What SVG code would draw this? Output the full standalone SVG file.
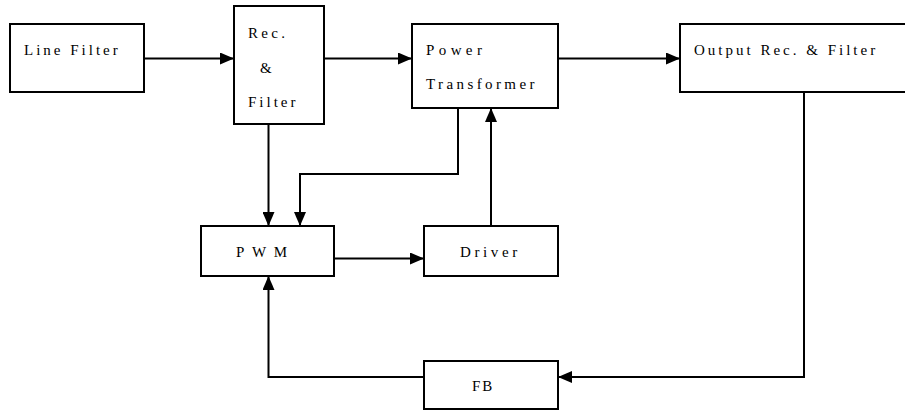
<svg xmlns="http://www.w3.org/2000/svg" width="905" height="410" viewBox="0 0 905 410">
<style>
.box{fill:#fff;stroke:#000;stroke-width:2}
text{font-family:'Liberation Serif','DejaVu Serif',serif;font-size:15px;fill:#000}
.c{fill:none;stroke:#000;stroke-width:2;marker-end:url(#ah)}
</style>
<defs>
<marker id="ah" viewBox="0 0 14 12" refX="14" refY="6" markerWidth="14" markerHeight="12" markerUnits="userSpaceOnUse" orient="auto">
<path d="M0,0 L14,6 L0,12 Z" fill="#000"/>
</marker>
</defs>
<rect width="905" height="410" fill="#fff"/>
<g id="connectors">
<path class="c" d="M144,58.5 H234"/>
<path class="c" d="M324,58.5 H412"/>
<path class="c" d="M558,58.5 H680"/>
<path class="c" d="M268.5,124 V226"/>
<path class="c" d="M458,108 V174 H300 V226"/>
<path class="c" d="M491,226 V108"/>
<path class="c" d="M334,258.5 H424"/>
<path class="c" d="M804,92 V377 H558"/>
<path class="c" d="M424,377 H268.5 V276"/>
</g>
<g font-family="Liberation Serif, serif">
<g id="line-filter">
<rect class="box" x="10" y="24" width="134" height="68"/>
<text x="24" y="55" letter-spacing="3">Line Filter</text>
</g>
<g id="rec-filter">
<rect class="box" x="234" y="6" width="90" height="118"/>
<text x="248" y="38" letter-spacing="3.3">Rec.</text>
<text x="260" y="73">&amp;</text>
<text x="248" y="107" letter-spacing="3">Filter</text>
</g>
<g id="power-transformer">
<rect class="box" x="412" y="24" width="146" height="84"/>
<text x="426" y="55" letter-spacing="4.4">Power</text>
<text x="426" y="89" letter-spacing="3.4">Transformer</text>
</g>
<g id="output-rec-filter">
<rect class="box" x="680" y="24" width="232" height="68"/>
<text x="694" y="55" letter-spacing="3">Output Rec. &amp; Filter</text>
</g>
<g id="pwm">
<rect class="box" x="201" y="226" width="133" height="50"/>
<text x="236" y="257" letter-spacing="7.6">PWM</text>
</g>
<g id="driver">
<rect class="box" x="424" y="226" width="134" height="50"/>
<text x="460" y="257" letter-spacing="3.6">Driver</text>
</g>
<g id="fb">
<rect class="box" x="424" y="361" width="134" height="48"/>
<text x="472" y="391" letter-spacing="2">FB</text>
</g>
</g>
</svg>
